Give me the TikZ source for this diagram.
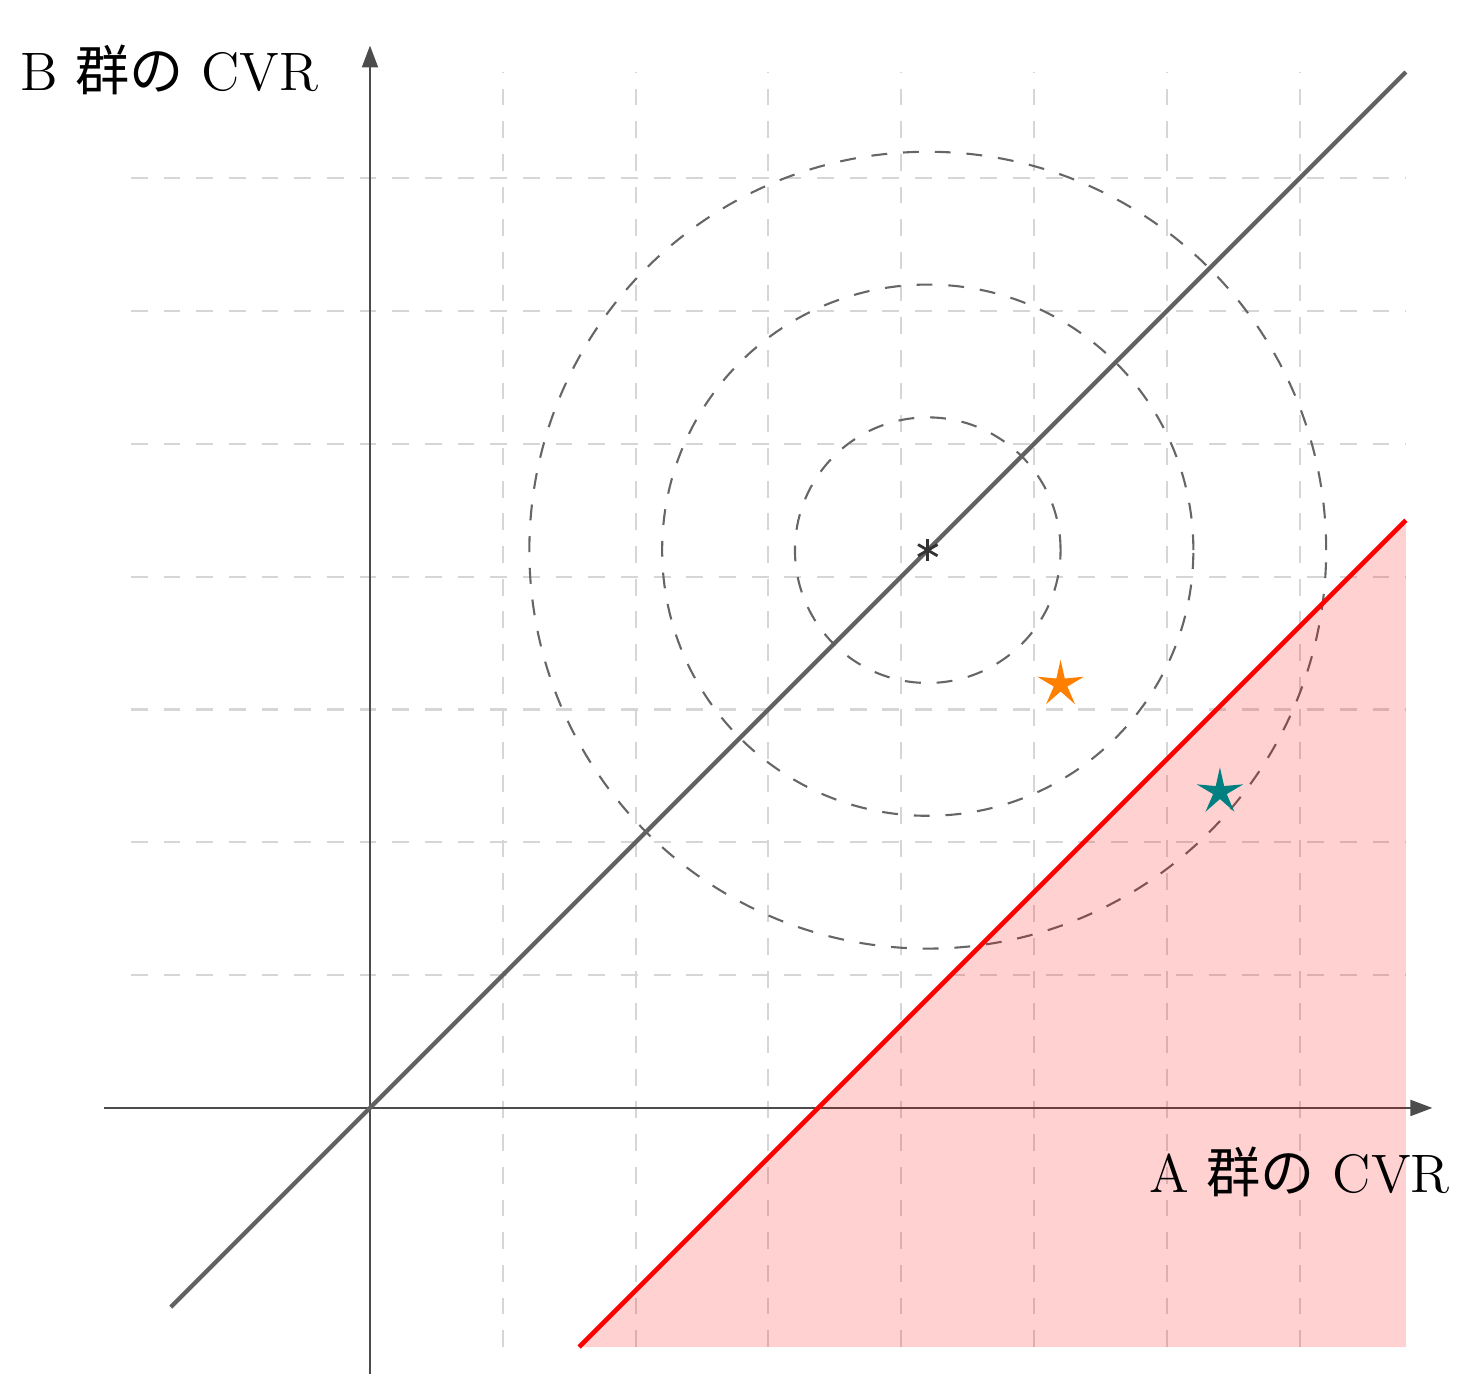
\documentclass[tikz,border=0pt]{standalone}
\usepackage{fontspec}
\newfontfamily\jp{Noto Sans CJK JP}
\usetikzlibrary{arrows.meta,calc}
\begin{document}
\begin{tikzpicture}[
  gridline/.style={draw=black!16, line width=0.45pt, dash pattern=on 3.6pt off 3.4pt},
  axisline/.style={draw=black!70, line width=0.5pt, -{Triangle[length=4.7pt,width=3.4pt]}},
  ring/.style={draw=black!60, line width=0.45pt, dash pattern=on 3.4pt off 3.4pt},
  diag/.style={draw=black!62, line width=0.9pt},
  redline/.style={draw=red, line width=1pt},
  zone/.style={fill=red, fill opacity=0.18},
  starpic/.pic={\fill (90:0.185) -- (126:0.054) -- (162:0.185) -- (198:0.054) -- (234:0.185) -- (270:0.054) -- (306:0.185) -- (342:0.054) -- (18:0.185) -- (54:0.054) -- cycle;},
  asteriskline/.style={draw=black!80, line width=0.6pt},
  lab/.style={font=\fontsize{11.6}{14}\selectfont, inner sep=0pt, anchor=base},
]
\useasboundingbox (-2.786,-2.033) rectangle (8.268,8.343);

% grid
\foreach \i in {1,...,7} {
  \draw[gridline] (\i,-1.8) -- (\i,7.8);
  \draw[gridline] (-1.8,\i) -- (7.8,\i);
}

% axes
\coordinate (O) at (0,0);
\coordinate (xs) at (-2,0);
\coordinate (xe) at (8,0);
\coordinate (ys) at (0,-2);
\coordinate (ye) at (0,8);
\draw[axisline] (xs) -- (xe);
\draw[axisline] (ys) -- (ye);

% circles
\coordinate (C) at (4.2,4.2);
\foreach \r in {1,2,3} {
  \draw[ring] (C) circle[radius=\r];
}

% diagonal y = x
\coordinate (d1) at (-1.5,-1.5);
\coordinate (d2) at (7.8,7.8);
\draw[diag] (d1) -- (d2);

% rejection zone
\coordinate (r1) at (1.575,-1.8);
\coordinate (r2) at (7.8,4.425);
\coordinate (r3) at (7.8,-1.8);
\fill[zone] (r1) -- (r2) -- (r3) -- cycle;
\draw[redline] (r1) -- (r2);

% stars
\coordinate (s1) at (5.2,3.19);
\coordinate (s2) at (6.4,2.38);
\pic[orange] at (s1) {starpic};
\pic[teal] at (s2) {starpic};

% centre asterisk
\draw[asteriskline] ($(C)+(90:0.085)$) -- ($(C)+(270:0.085)$);
\draw[asteriskline] ($(C)+(30:0.085)$) -- ($(C)+(210:0.085)$);
\draw[asteriskline] ($(C)+(150:0.085)$) -- ($(C)+(330:0.085)$);

% labels
\node[lab] (ylab) at (-1.51,7.66) {B {\jp 群の} CVR};
\node[lab] (xlab) at (7.0,-0.64) {A {\jp 群の} CVR};
\end{tikzpicture}
\end{document}
